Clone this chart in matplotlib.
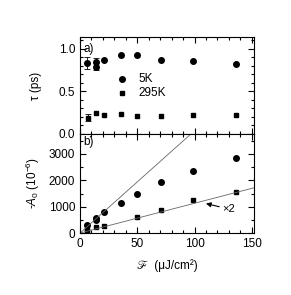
import matplotlib.pyplot as plt
from matplotlib.ticker import MultipleLocator

plt.rcParams['font.family'] = ['Liberation Sans', 'DejaVu Sans']
plt.rcParams['mathtext.fontset'] = 'custom'
plt.rcParams['mathtext.rm'] = 'Liberation Sans'
plt.rcParams['mathtext.it'] = 'Liberation Sans:italic'

# panel a) relaxation time
tau_5k_x = [6, 14, 14, 21, 36, 50, 71, 99, 136]
tau_5k_y = [0.835, 0.85, 0.79, 0.87, 0.93, 0.93, 0.87, 0.86, 0.82]
tau_295k_x = [7, 14, 21, 36, 50, 71, 99, 136]
tau_295k_y = [0.19, 0.25, 0.22, 0.235, 0.21, 0.21, 0.22, 0.22]
# error bars (only the low fluence points carry them)
err_x = [6, 14, 7]
err_y = [0.835, 0.82, 0.19]
err_size = [0.07, 0.07, 0.04]

# panel b) amplitude
amp_5k_x = [6, 14, 14, 21, 36, 50, 71, 99, 136]
amp_5k_y = [300, 570, 490, 800, 1140, 1480, 1940, 2360, 2850]
amp_295k_x = [6, 6, 14, 21, 50, 71, 99, 136]
amp_295k_y = [150, 60, 230, 270, 610, 870, 1250, 1560]
slope_5k = 38.8
slope_295k = 11.3
fit_x = [0, 155]

fig = plt.figure(figsize=(2.91, 2.95), dpi=100)
ax1 = fig.add_axes([0.275, 0.546, 0.598, 0.329])
ax2 = fig.add_axes([0.275, 0.210, 0.598, 0.336])

ax1.errorbar(err_x, err_y, yerr=err_size, fmt='none', ecolor='black',
             elinewidth=0.6, capsize=2, capthick=0.6)
ax1.plot(tau_5k_x, tau_5k_y, 'o', color='black', ms=4)
ax1.plot(tau_295k_x, tau_295k_y, 's', color='black', ms=3.5)
ax1.plot([37], [0.65], 'o', color='black', ms=4)
ax1.text(51, 0.65, '5K', va='center', fontsize=8.5)
ax1.plot([37], [0.48], 's', color='black', ms=3.5)
ax1.text(51, 0.48, '295K', va='center', fontsize=8.5)
ax1.text(3, 1.0, 'a)', va='center', fontsize=8.5)
ax1.set_ylim(0, 1.14)
ax1.set_ylabel('\u03c4 (ps)', fontsize=8.5)
ax1.yaxis.set_major_locator(MultipleLocator(0.5))
ax1.yaxis.set_minor_locator(MultipleLocator(0.1))
ax1.tick_params(labelbottom=False)

ax2.plot(amp_5k_x, amp_5k_y, 'o', color='black', ms=4)
ax2.plot(amp_295k_x, amp_295k_y, 's', color='black', ms=3.5)
ax2.plot(fit_x, [slope_5k * v for v in fit_x], color='#666666', lw=0.6)
ax2.plot(fit_x, [slope_295k * v for v in fit_x], color='#666666', lw=0.6)
ax2.annotate('\u00d72', xy=(110, 1120), xytext=(124, 800), fontsize=8,
             arrowprops=dict(arrowstyle='-|>', color='black', lw=0.8,
                             shrinkA=0, shrinkB=0, mutation_scale=7))
ax2.text(3, 3450, 'b)', va='center', fontsize=8.5)
ax2.set_ylim(0, 3760)
ax2.set_ylabel(r'-$A_0$ (10$^{-6}$)', fontsize=8.5)
ax2.set_xlabel('\u2131  (\u03bcJ/cm\u00b2)', fontsize=8.5, labelpad=7,
               family=['Liberation Sans', 'STIXGeneral', 'DejaVu Sans'])
ax2.yaxis.set_major_locator(MultipleLocator(1000))
ax2.yaxis.set_minor_locator(MultipleLocator(500))

for ax in (ax1, ax2):
    ax.set_xlim(0, 152)
    ax.xaxis.set_major_locator(MultipleLocator(50))
    ax.xaxis.set_minor_locator(MultipleLocator(10))
    ax.tick_params(which='both', direction='in', top=True, right=True,
                   labelsize=8.5, width=0.8)
    ax.tick_params(which='major', length=4)
    ax.tick_params(which='minor', length=2.5)
    ax.yaxis.set_label_coords(-0.22, 0.5)
    for s in ax.spines.values():
        s.set_linewidth(0.8)

fig.savefig('out.png', dpi=100)
